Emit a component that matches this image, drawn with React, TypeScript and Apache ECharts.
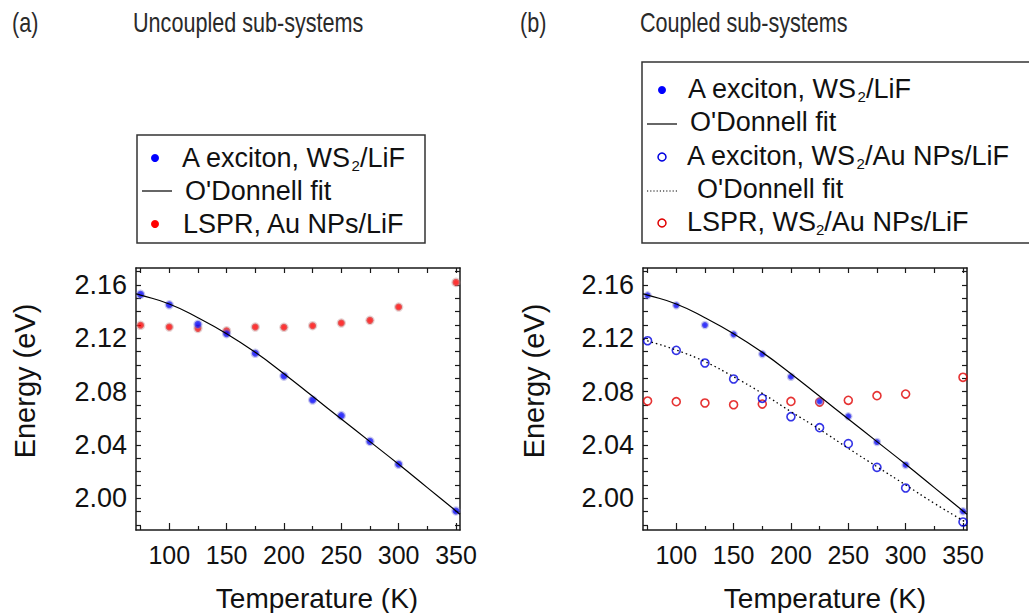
import React, { useEffect, useRef } from 'react';
import * as echarts from 'echarts';

// ---- data ----
const temps = [75, 100, 125, 150, 175, 200, 225, 250, 275, 300, 350];
// (a) uncoupled
const excitonLiFA = [2.153, 2.1452, 2.1305, 2.1235, 2.1088, 2.0917, 2.0737, 2.062, 2.0427, 2.0255, 1.9905];
const lsprLiF = [2.1298, 2.1285, 2.1275, 2.1257, 2.1285, 2.1283, 2.1295, 2.1315, 2.1335, 2.1435, 2.162];
// (b) coupled
const excitonLiFB = [2.1523, 2.1448, 2.13, 2.123, 2.1082, 2.0912, 2.0727, 2.0615, 2.0422, 2.025, 1.9902];
const excitonAuB = [2.1182, 2.111, 2.1015, 2.0895, 2.075, 2.0612, 2.053, 2.041, 2.0232, 2.0077, 1.9822];
const lsprAuB = [2.073, 2.0725, 2.0715, 2.0702, 2.0707, 2.0727, 2.0722, 2.0735, 2.077, 2.0782, 2.0908];
// O'Donnell fit curves
const fitTemps = [71, 75, 100, 125, 150, 175, 200, 225, 250, 275, 300, 325, 350, 353.5];
const fitLiF = [2.1534, 2.1525, 2.1458, 2.1355, 2.1235, 2.1095, 2.0935, 2.0765, 2.0595, 2.0425, 2.0255, 2.008, 1.9905, 1.988];
const fitAu = [2.1195, 2.1182, 2.1112, 2.1025, 2.0912, 2.0787, 2.065, 2.0517, 2.0375, 2.0237, 2.01, 1.9962, 1.9832, 1.9812];
// ticks
const xMajor = [100, 150, 200, 250, 300, 350];
const xMinor = [75, 125, 175, 225, 275, 325];
const xAll = [75, 100, 125, 150, 175, 200, 225, 250, 275, 300, 325, 350];
const yLabels = [2.0, 2.04, 2.08, 2.12, 2.16];
const yTicks = [1.98, 1.99, 2.0, 2.01, 2.02, 2.03, 2.04, 2.05, 2.06, 2.07, 2.08, 2.09, 2.1, 2.11, 2.12, 2.13, 2.14, 2.15, 2.16, 2.17];

const X_MIN = 71;
const X_MAX = 353.5;
const Y_MIN = 1.9762;
const Y_MAX = 2.1728;

const FONT = "'Liberation Sans', Arial, sans-serif";
const INK = '#1a1a1a';

const pairs = (xs: number[], ys: number[]) => xs.map((x, i) => [x, ys[i]]);

function axesFor(gi: number) {
  const xs = [
    {
      type: 'value', gridIndex: gi, min: X_MIN, max: X_MAX, position: 'bottom',
      axisLine: { show: true, onZero: false, lineStyle: { color: INK, width: 1.5 } },
      axisTick: { show: true, inside: true, length: 7, customValues: xMajor, lineStyle: { color: INK, width: 1.2 } },
      axisLabel: { show: true, customValues: xMajor, margin: 12, fontSize: 25, color: '#111', fontFamily: FONT },
      splitLine: { show: false },
    },
    {
      type: 'value', gridIndex: gi, min: X_MIN, max: X_MAX, position: 'bottom',
      axisLine: { show: false, onZero: false },
      axisTick: { show: true, inside: true, length: 4, customValues: xMinor, lineStyle: { color: INK, width: 1.2 } },
      axisLabel: { show: false },
      splitLine: { show: false },
    },
    {
      type: 'value', gridIndex: gi, min: X_MIN, max: X_MAX, position: 'top',
      axisLine: { show: true, onZero: false, lineStyle: { color: INK, width: 1.5 } },
      axisTick: { show: true, inside: true, length: 5, customValues: xAll, lineStyle: { color: INK, width: 1.2 } },
      axisLabel: { show: false },
      splitLine: { show: false },
    },
  ];
  const ys = [
    {
      type: 'value', gridIndex: gi, min: Y_MIN, max: Y_MAX, position: 'left',
      axisLine: { show: true, onZero: false, lineStyle: { color: INK, width: 1.5 } },
      axisTick: { show: true, inside: true, length: 5, customValues: yTicks, lineStyle: { color: INK, width: 1.2 } },
      axisLabel: {
        show: true, customValues: yLabels, margin: 9, fontSize: 27, color: '#111', fontFamily: FONT,
        padding: [6, 0, 0, 0], formatter: (v: number) => v.toFixed(2),
      },
      splitLine: { show: false },
    },
    {
      type: 'value', gridIndex: gi, min: Y_MIN, max: Y_MAX, position: 'right',
      axisLine: { show: true, onZero: false, lineStyle: { color: INK, width: 1.5 } },
      axisTick: { show: true, inside: true, length: 5, customValues: yTicks, lineStyle: { color: INK, width: 1.2 } },
      axisLabel: { show: false },
      splitLine: { show: false },
    },
  ];
  return { xs, ys };
}

function legendText(x: number, y: number, text: string) {
  return {
    type: 'text', x, y, z: 10,
    style: {
      text, align: 'left', verticalAlign: 'middle', fontFamily: FONT, fontSize: 27, fill: '#111',
      rich: {
        a: { fontSize: 27, lineHeight: 30, fontFamily: FONT, fill: '#111' },
        s: { fontSize: 15, lineHeight: 14, verticalAlign: 'bottom', fontFamily: FONT, fill: '#111' },
      },
    },
  };
}

function titleText(x: number, text: string) {
  return {
    type: 'text', x, y: 23, scaleX: 0.8, scaleY: 1,
    style: { text, fontFamily: FONT, fontSize: 27, fill: '#2a2a2a', verticalAlign: 'middle', align: 'left' },
  };
}

export default function App() {
  const ref = useRef<HTMLDivElement>(null);
  useEffect(() => {
    if (!ref.current) return;
    const chart = echarts.init(ref.current, undefined, { renderer: 'svg' });
    const a = axesFor(0);
    const b = axesFor(1);
    const xAxis = [...a.xs, ...b.xs];
    const yAxis = [...a.ys, ...b.ys];
    // x index: grid0 main=0, grid1 main=3 ; y index: grid0 left=0, grid1 left=2
    const blueHalo = 'rgba(120,120,215,0.5)';
    const redHalo = 'rgba(190,140,140,0.5)';
    const option: any = {
      animation: false,
      backgroundColor: '#fff',
      grid: [
        { left: 136, top: 268, width: 324, height: 262 },
        { left: 643, top: 268, width: 324, height: 262 },
      ],
      xAxis,
      yAxis,
      series: [
        {
          name: "O'Donnell fit", type: 'line', xAxisIndex: 0, yAxisIndex: 0,
          data: pairs(fitTemps, fitLiF), showSymbol: false, smooth: true,
          lineStyle: { color: '#000', width: 1.2 },
        },
        {
          name: 'LSPR, Au NPs/LiF', type: 'scatter', xAxisIndex: 0, yAxisIndex: 0,
          data: pairs(temps, lsprLiF), symbol: 'circle', symbolSize: 7,
          itemStyle: { color: '#ff0000', borderColor: redHalo, borderWidth: 2.5 },
        },
        {
          name: 'A exciton, WS2/LiF', type: 'scatter', xAxisIndex: 0, yAxisIndex: 0,
          data: pairs(temps, excitonLiFA), symbol: 'circle', symbolSize: 7,
          itemStyle: { color: '#0000ff', borderColor: blueHalo, borderWidth: 2.5 },
        },
        {
          name: "O'Donnell fit (LiF)", type: 'line', xAxisIndex: 3, yAxisIndex: 2,
          data: pairs(fitTemps, fitLiF), showSymbol: false, smooth: true,
          lineStyle: { color: '#000', width: 1.2 },
        },
        {
          name: "O'Donnell fit (Au NPs)", type: 'line', xAxisIndex: 3, yAxisIndex: 2,
          data: pairs(fitTemps, fitAu), showSymbol: false, smooth: true,
          lineStyle: { color: '#000', width: 1.3, type: [1.5, 3] },
        },
        {
          name: 'LSPR, WS2/Au NPs/LiF', type: 'scatter', xAxisIndex: 3, yAxisIndex: 2,
          data: pairs(temps, lsprAuB), symbol: 'circle', symbolSize: 8,
          itemStyle: { color: 'rgba(0,0,0,0)', borderColor: '#e00000', borderWidth: 1.6 },
        },
        {
          name: 'A exciton, WS2/Au NPs/LiF', type: 'scatter', xAxisIndex: 3, yAxisIndex: 2,
          data: pairs(temps, excitonAuB), symbol: 'circle', symbolSize: 8,
          itemStyle: { color: 'rgba(0,0,0,0)', borderColor: '#0000e0', borderWidth: 1.6 },
        },
        {
          name: 'A exciton, WS2/LiF (b)', type: 'scatter', xAxisIndex: 3, yAxisIndex: 2,
          data: pairs(temps, excitonLiFB), symbol: 'circle', symbolSize: 6,
          itemStyle: { color: '#0000ff', borderColor: blueHalo, borderWidth: 2.5 },
        },
      ],
      graphic: [
        // titles
        titleText(12, '(a)'),
        titleText(133, 'Uncoupled sub-systems'),
        titleText(520, '(b)'),
        titleText(640, 'Coupled sub-systems'),
        // axis names
        { type: 'text', x: 25, y: 381, rotation: Math.PI / 2, style: { text: 'Energy (eV)', fontFamily: FONT, fontSize: 29, fill: '#111', align: 'center', verticalAlign: 'middle' } },
        { type: 'text', x: 534, y: 381, rotation: Math.PI / 2, style: { text: 'Energy (eV)', fontFamily: FONT, fontSize: 29, fill: '#111', align: 'center', verticalAlign: 'middle' } },
        { type: 'text', x: 317, y: 598, style: { text: 'Temperature (K)', fontFamily: FONT, fontSize: 28, fill: '#111', align: 'center', verticalAlign: 'middle' } },
        { type: 'text', x: 825, y: 598, style: { text: 'Temperature (K)', fontFamily: FONT, fontSize: 28, fill: '#111', align: 'center', verticalAlign: 'middle' } },
        // legend (a)
        { type: 'rect', shape: { x: 137, y: 135, width: 288, height: 108 }, style: { fill: '#fff', stroke: '#333', lineWidth: 1.5 } },
        { type: 'circle', shape: { cx: 155, cy: 158, r: 4 }, style: { fill: '#0000ff' }, z: 10 },
        legendText(182, 158, '{a|A exciton, WS}{s|2}{a|/LiF}'),
        { type: 'line', shape: { x1: 142, y1: 191, x2: 172, y2: 191 }, style: { stroke: '#000', lineWidth: 1.2 }, z: 10 },
        legendText(185, 191, "{a|O'Donnell fit}"),
        { type: 'circle', shape: { cx: 155, cy: 224, r: 4 }, style: { fill: '#ff0000' }, z: 10 },
        legendText(183, 224, '{a|LSPR, Au NPs/LiF}'),
        // legend (b)
        { type: 'rect', shape: { x: 642, y: 62, width: 400, height: 181 }, style: { fill: '#fff', stroke: '#333', lineWidth: 1.5 } },
        { type: 'circle', shape: { cx: 662, cy: 90, r: 4 }, style: { fill: '#0000ff' }, z: 10 },
        legendText(688, 89, '{a|A exciton, WS}{s|2}{a|/LiF}'),
        { type: 'line', shape: { x1: 647, y1: 124, x2: 677, y2: 124 }, style: { stroke: '#000', lineWidth: 1.2 }, z: 10 },
        legendText(690, 122, "{a|O'Donnell fit}"),
        { type: 'circle', shape: { cx: 662, cy: 157, r: 4 }, style: { fill: 'none', stroke: '#0000e0', lineWidth: 1.5 }, z: 10 },
        legendText(687, 156, '{a|A exciton, WS}{s|2}{a|/Au NPs/LiF}'),
        { type: 'line', shape: { x1: 647, y1: 191, x2: 677, y2: 191 }, style: { stroke: '#000', lineWidth: 1.2, lineDash: [1.2, 2] }, z: 10 },
        legendText(697, 189, "{a|O'Donnell fit}"),
        { type: 'circle', shape: { cx: 662, cy: 223, r: 4 }, style: { fill: 'none', stroke: '#e00000', lineWidth: 1.5 }, z: 10 },
        legendText(687, 222, '{a|LSPR, WS}{s|2}{a|/Au NPs/LiF}'),
      ],
    };
    chart.setOption(option);
    return () => chart.dispose();
  }, []);
  return <div ref={ref} style={{ position: 'absolute', left: 0, top: 0, width: 1029, height: 613 }} />;
}
